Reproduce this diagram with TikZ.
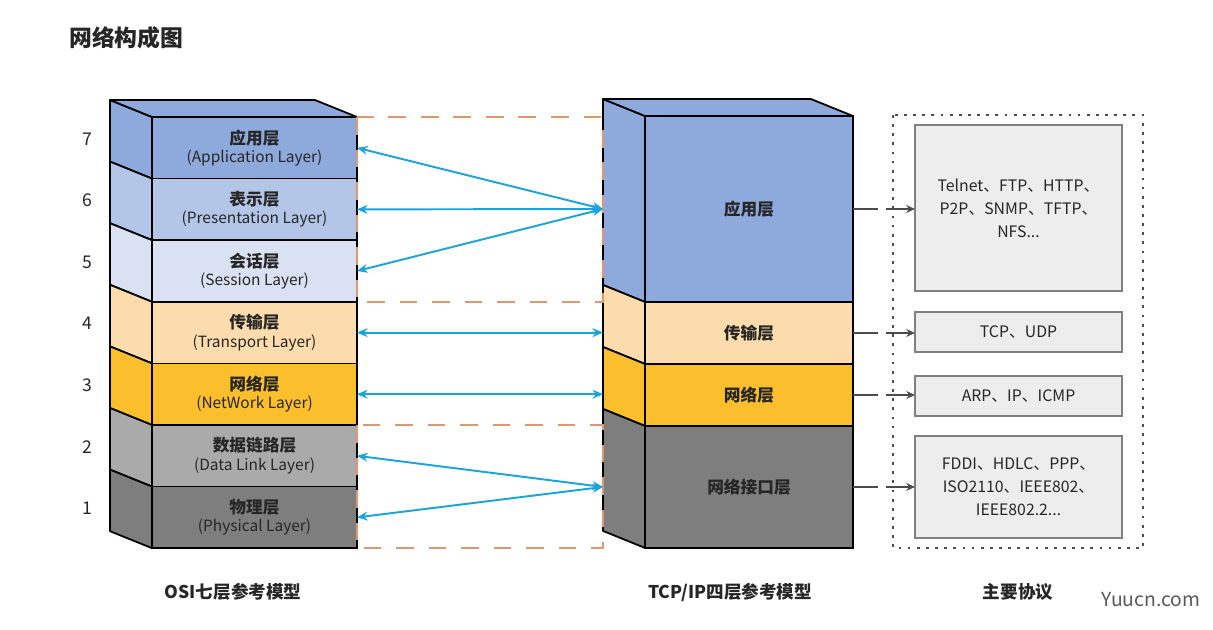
\documentclass[tikz,border=0pt]{standalone}
\usepackage{fontspec}
\setmainfont{Noto Sans CJK SC}
\usetikzlibrary{positioning,calc,arrows.meta}

\definecolor{osi7}{RGB}{142,169,219}
\definecolor{osi6}{RGB}{180,198,231}
\definecolor{osi5}{RGB}{217,225,243}
\definecolor{osi4}{RGB}{252,220,172}
\definecolor{osi3}{RGB}{251,190,45}
\definecolor{osi2}{RGB}{170,170,170}
\definecolor{osi1}{RGB}{126,126,126}
\definecolor{linkblue}{RGB}{27,163,219}
\definecolor{frameorange}{RGB}{222,152,112}
\definecolor{txt}{RGB}{38,38,38}
\definecolor{protofill}{RGB}{237,237,237}

\begin{document}
\begin{tikzpicture}[x=0.02cm, y=-0.02cm,
  layer/.style={draw=black, line width=1pt, outer sep=0pt, inner sep=0pt, align=center, text=txt,
    minimum width=4.1cm, minimum height=1.232cm},
  tlayer/.style={layer, minimum width=4.16cm, minimum height=1.24cm, font=\fontsize{9.5}{11}\selectfont\bfseries},
  proto/.style={draw=black!50, fill=protofill, line width=0.9pt, outer sep=0pt, inner sep=0pt, align=center,
    text=txt, minimum width=4.14cm, font=\fontsize{9}{13}\selectfont},
  face/.style={draw=black, line width=1pt, line join=round},
  duplex/.style={linkblue, line width=1.1pt, {Stealth[length=6pt,width=5pt]}-{Stealth[length=6pt,width=5pt]}},
  feed/.style={black!70, line width=1pt, dash pattern=on 14pt off 5pt, -{Stealth[length=5pt,width=4.5pt]}},
  caption/.style={text=txt, font=\fontsize{10}{12}\selectfont\bfseries}
]
\useasboundingbox (0,0) rectangle (1213,629);

\node[anchor=west, text=txt, font=\fontsize{13}{15}\selectfont\bfseries] (title) at (63,38) {网络构成图};

% OSI stack
\foreach \n/\zh/\en in {7/应用层/Application Layer, 6/表示层/Presentation Layer, 5/会话层/Session Layer,
    4/传输层/Transport Layer, 3/网络层/NetWork Layer, 2/数据链路层/Data Link Layer, 1/物理层/Physical Layer}
  \node[layer, fill=osi\n, font=\fontsize{8.8}{10.5}\selectfont] (L\n) at (254.5, {147.8+61.6*(7-\n)})
    {{\fontsize{9.5}{10.5}\selectfont\bfseries\zh}\\(\en)};
\foreach \n in {7,...,1}{
  \filldraw[face, fill=osi\n] (L\n.north west) -- ++(-42,-17) -- ($(L\n.south west)+(-42,-17)$) -- (L\n.south west) -- cycle;
  \node[text=txt, font=\fontsize{10}{12}\selectfont] (num\n) at (87, {138.8+61.6*(7-\n)}) {\n};
}
\filldraw[face, fill=osi7] (L7.north west) -- ++(-42,-17) -- ($(L7.north east)+(-42,-17)$) -- (L7.north east) -- cycle;

% TCP/IP stack
\node[tlayer, fill=osi7, minimum height=3.72cm] (tapp) at (749,209) {应用层};
\node[tlayer, fill=osi4, below=0pt of tapp] (ttrans) {传输层};
\node[tlayer, fill=osi3, below=0pt of ttrans] (tnet) {网络层};
\node[tlayer, fill=osi1, minimum height=2.44cm, below=0pt of tnet] (tlink) {网络接口层};
\foreach \t/\c in {tapp/osi7, ttrans/osi4, tnet/osi3, tlink/osi1}
  \filldraw[face, fill=\c] (\t.north west) -- ++(-42,-17) -- ($(\t.south west)+(-42,-17)$) -- (\t.south west) -- cycle;
\filldraw[face, fill=osi7] (tapp.north west) -- ++(-42,-17) -- ($(tapp.north east)+(-42,-17)$) -- (tapp.north east) -- cycle;
\path (tapp.north west) ++(-42,-17) coordinate (tback);

% mapping frames
\draw[frameorange, line width=1.1pt, dash pattern=on 10pt off 8.5pt] (L7.north east) rectangle (tback |- L5.south);
\draw[frameorange, line width=1.1pt, dash pattern=on 10pt off 8.5pt] (L2.north east) rectangle (tback |- L1.south);

\foreach \n in {7,6,5} \draw[duplex] (L\n.east) -- (tback |- tapp.west);
\draw[duplex] (L4.east) -- (tback |- L4.east);
\draw[duplex] (L3.east) -- (tback |- L3.east);
\foreach \n in {2,1} \draw[duplex] (L\n.east) -- (tback |- tlink.west);

% protocols
\draw[black!70, line width=1.6pt, dash pattern=on 1.6pt off 3.6pt] (893,115) rectangle (1143,548);
\node[proto, minimum height=3.32cm] (papp) at (1018.5,208) {Telnet、FTP、HTTP、\\P2P、SNMP、TFTP、\\NFS...};
\node[proto, minimum height=0.8cm] (ptrans) at (1018.5,332) {TCP、UDP};
\node[proto, minimum height=0.8cm] (pnet) at (1018.5,396) {ARP、IP、ICMP};
\node[proto, minimum height=2.04cm] (plink) at (1018.5,487) {FDDI、HDLC、PPP、\\ISO2110、IEEE802、\\IEEE802.2...};
\draw[feed] (tapp.east) -- (tapp.east -| papp.west);
\draw[feed] (ttrans.east) -- (ttrans.east -| ptrans.west);
\draw[feed] (tnet.east) -- (tnet.east -| pnet.west);
\draw[feed] (tlink.east) -- (tlink.east -| plink.west);

\node[caption] (osicap) at (233,592) {OSI七层参考模型};
\node[caption] (tcpcap) at (730,592) {TCP/IP四层参考模型};
\node[caption] (protocap) at (1018,592) {主要协议};
\node[text=black!65, font=\fontsize{11}{13}\selectfont] (mark) at (1151,600) {Yuucn.com};
\end{tikzpicture}
\end{document}
